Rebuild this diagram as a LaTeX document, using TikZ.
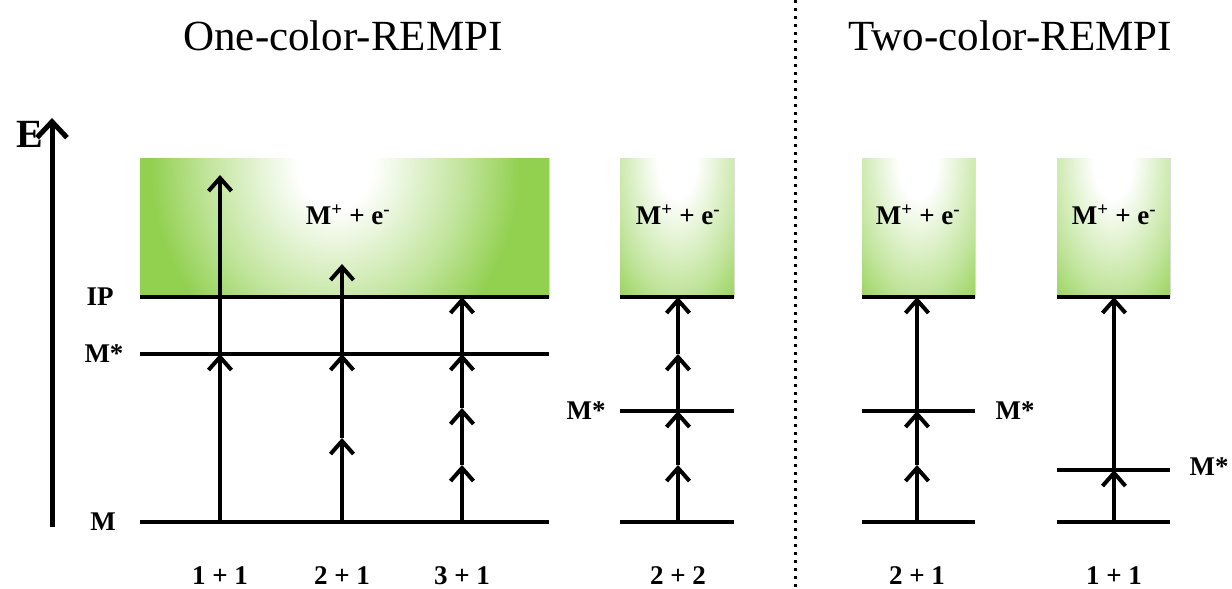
\documentclass[tikz,border=0pt]{standalone}
\usepackage{fontspec}
\setmainfont{Liberation Serif}
\usetikzlibrary{arrows.meta}
\definecolor{rempigreen}{RGB}{146,208,80}
\colorlet{rempimid}{rempigreen!55!white}
\pgfdeclareradialshading{glow}{\pgfpointorigin}{color(0bp)=(white); color(2.5bp)=(white); color(8.5bp)=(rempimid); color(12.5bp)=(rempigreen); color(50bp)=(rempigreen)}
\tikzset{
  level/.style={line width=4pt},
  ar/.style={line width=3.5pt,-{Straight Barb[length=13pt,width=23pt,line width=4pt]}},
  lab/.style={font=\fontsize{27}{30}\selectfont\bfseries,inner sep=0pt},
  blab/.style={lab,anchor=base},
  ttl/.style={font=\fontsize{43}{50}\selectfont,inner sep=0pt},
  ionbox/.style={fill=rempigreen},
}
\begin{document}
\begin{tikzpicture}[x=1pt,y=-1pt]
\useasboundingbox (0,0) rectangle (1232,589);
% boxes
\fill[ionbox] (140,158) rectangle (549,297);
\begin{scope}
\clip (140,158) rectangle (549,297);
\fill[shading=glow] (335,165) ellipse [x radius=370, y radius=420];
\end{scope}
\fill[ionbox] (620,158) rectangle (734,297);
\begin{scope}
\clip (620,158) rectangle (734,297);
\fill[shading=glow] (677,160) ellipse [x radius=190, y radius=380];
\end{scope}
\fill[ionbox] (862,158) rectangle (975,297);
\begin{scope}
\clip (862,158) rectangle (975,297);
\fill[shading=glow] (918,160) ellipse [x radius=190, y radius=380];
\end{scope}
\fill[ionbox] (1057,158) rectangle (1170,297);
\begin{scope}
\clip (1057,158) rectangle (1170,297);
\fill[shading=glow] (1113,160) ellipse [x radius=190, y radius=380];
\end{scope}
% titles
\node[ttl] (t1) at (343,36) {One-color-REMPI};
\node[ttl] (t2) at (1010,36) {Two-color-REMPI};
% divider
\coordinate (dvt) at (795,0);
\coordinate (dvb) at (795,589);
\draw[line width=3pt,dash pattern=on 3pt off 5pt] (dvt) -- (dvb);
% energy axis
\coordinate (ea) at (52,527);
\coordinate (eb) at (52,118);
\draw[line width=5pt,-{Straight Barb[length=16pt,width=30pt,line width=5pt]}] (ea) -- (eb);
\node[lab,font=\fontsize{40}{44}\selectfont\bfseries] (E) at (30,134) {E};
% level lines: group 1
\coordinate (ip1l) at (140,297); \coordinate (ip1r) at (549,297);
\coordinate (s1l) at (140,354); \coordinate (s1r) at (549,354);
\coordinate (m1l) at (140,522); \coordinate (m1r) at (549,522);
\draw[level] (ip1l) -- (ip1r);
\draw[level] (s1l) -- (s1r);
\draw[level] (m1l) -- (m1r);
% group 2
\coordinate (ip2l) at (620,297); \coordinate (ip2r) at (734,297);
\coordinate (s2l) at (620,411); \coordinate (s2r) at (734,411);
\coordinate (m2l) at (620,522); \coordinate (m2r) at (734,522);
\draw[level] (ip2l) -- (ip2r);
\draw[level] (s2l) -- (s2r);
\draw[level] (m2l) -- (m2r);
% group 3
\coordinate (ip3l) at (862,297); \coordinate (ip3r) at (975,297);
\coordinate (s3l) at (862,411); \coordinate (s3r) at (975,411);
\coordinate (m3l) at (862,522); \coordinate (m3r) at (975,522);
\draw[level] (ip3l) -- (ip3r);
\draw[level] (s3l) -- (s3r);
\draw[level] (m3l) -- (m3r);
% group 4
\coordinate (ip4l) at (1057,297); \coordinate (ip4r) at (1170,297);
\coordinate (s4l) at (1057,470); \coordinate (s4r) at (1170,470);
\coordinate (m4l) at (1057,522); \coordinate (m4r) at (1170,522);
\draw[level] (ip4l) -- (ip4r);
\draw[level] (s4l) -- (s4r);
\draw[level] (m4l) -- (m4r);
% level labels
\node[lab] (lip) at (100,297) {IP};
\node[lab] (ls1) at (104,354) {M*};
\node[lab] (lm1) at (103,522) {M};
\node[lab] (ls2) at (586,411) {M*};
\node[lab] (ls3) at (1015,411) {M*};
\node[lab] (ls4) at (1209,467) {M*};
% ion labels
\node[lab] (ion1) at (348,215) {M\textsuperscript{+} + e\textsuperscript{-}};
\node[lab] (ion2) at (678,215) {M\textsuperscript{+} + e\textsuperscript{-}};
\node[lab] (ion3) at (918,215) {M\textsuperscript{+} + e\textsuperscript{-}};
\node[lab] (ion4) at (1114,215) {M\textsuperscript{+} + e\textsuperscript{-}};
% column 1: 1+1
\coordinate (a0) at (220,522); \coordinate (a1) at (220,354); \coordinate (a2) at (220,175);
\draw[ar] (a0) -- (a1); \draw[ar] (a1) -- (a2);
% column 2: 2+1
\coordinate (b0) at (342,522); \coordinate (b1) at (342,438); \coordinate (b2) at (342,354); \coordinate (b3) at (342,264);
\draw[ar] (b0) -- (b1); \draw[ar] (b1) -- (b2); \draw[ar] (b2) -- (b3);
% column 3: 3+1
\coordinate (c0) at (462,522); \coordinate (c1) at (462,465); \coordinate (c2) at (462,408); \coordinate (c3) at (462,354); \coordinate (c4) at (462,297);
\draw[ar] (c0) -- (c1); \draw[ar] (c1) -- (c2); \draw[ar] (c2) -- (c3); \draw[ar] (c3) -- (c4);
% column 4: 2+2
\coordinate (d0) at (678,522); \coordinate (d1) at (678,465); \coordinate (d2) at (678,411); \coordinate (d3) at (678,354); \coordinate (d4) at (678,297);
\draw[ar] (d0) -- (d1); \draw[ar] (d1) -- (d2); \draw[ar] (d2) -- (d3); \draw[ar] (d3) -- (d4);
% column 5: 2+1 two-color
\coordinate (e0) at (917,522); \coordinate (e1) at (917,465); \coordinate (e2) at (917,411); \coordinate (e3) at (917,297);
\draw[ar] (e0) -- (e1); \draw[ar] (e1) -- (e2); \draw[ar] (e2) -- (e3);
% column 6: 1+1 two-color
\coordinate (f0) at (1114,522); \coordinate (f1) at (1114,470); \coordinate (f2) at (1114,297);
\draw[ar] (f0) -- (f1); \draw[ar] (f1) -- (f2);
% bottom labels
\node[blab] (n1) at (220,584) {1 + 1};
\node[blab] (n2) at (342,584) {2 + 1};
\node[blab] (n3) at (462,584) {3 + 1};
\node[blab] (n4) at (678,584) {2 + 2};
\node[blab] (n5) at (917,584) {2 + 1};
\node[blab] (n6) at (1114,584) {1 + 1};
\end{tikzpicture}
\end{document}
